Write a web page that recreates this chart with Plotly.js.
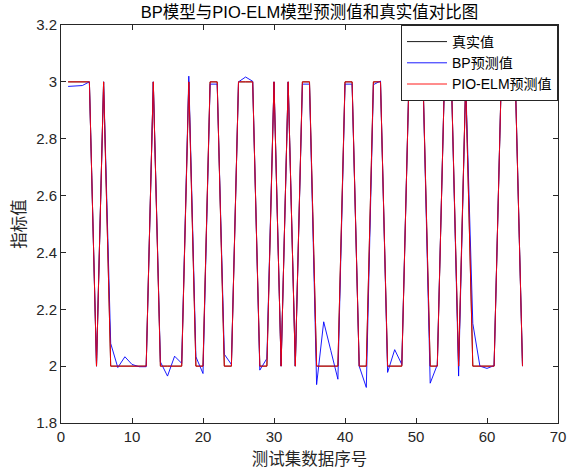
<!DOCTYPE html>
<html>
<head>
<meta charset="utf-8">
<script src="https://cdn.plot.ly/plotly-3.0.1.min.js"></script>
<style>
html,body{margin:0;padding:0;background:#fff;}
#chart{width:567px;height:473px;}
</style>
</head>
<body>
<div id="chart"></div>
<script>
// Sample index 1..65
var sampleIndex = [];
for (var i = 1; i <= 65; i++) sampleIndex.push(i);

// True values (真实值)
var trueValues = [
  3,3,3,3,2,3,2,2,2,2,
  2,2,3,2,2,2,2,3,2,2,
  3,3,2,2,3,3,3,2,2,3,
  2,3,2,3,3,2,2,2,2,3,
  3,2,2,3,3,2,2,2,3,3,
  3,2,2,3,3,2,3,2,2,2,
  2,3,3,3,2
];

// BP predictions (BP预测值)
var bpValues = [
  2.984,2.985,2.987,3.0,2.0,3.0,2.08,1.995,2.033,2.006,
  1.998,1.998,3.0,2.015,1.965,2.035,2.01,3.02,2.033,1.974,
  2.992,2.992,2.042,2.006,3.0,3.017,3.002,1.986,2.027,3.0,
  2.0,3.0,2.0,2.992,2.992,1.935,2.156,2.055,1.954,2.992,
  2.992,2.0,1.925,2.99,3.003,1.978,2.058,2.006,3.0,3.0,
  3.0,1.94,2.005,3.0,3.0,1.965,3.0,2.15,2.0,1.992,
  2.002,3.0,2.962,3.0,2.0
];

// PIO-ELM predictions (PIO-ELM预测值)
var pioValues = [
  3,3,3,3,2,3,2,2,2,2,
  2,2,3,2,2,2,2,3,2,2,
  3,3,2,2,3,3,3,2,2,3,
  2,3,2,3,3,2,2,2,2,3,
  3,2,2,3,3,2,2,2,3,3,
  3,2,2,3,3,2,3,2,2,2,
  2,3,2.99,3,2
];

var seriesNames = ['真实值', 'BP预测值', 'PIO-ELM预测值'];
var xTickVals = [0,10,20,30,40,50,60,70];
var yTickVals = [1.8,2,2.2,2.4,2.6,2.8,3,3.2];
var yTickText = ['1.8','2','2.2','2.4','2.6','2.8','3','3.2'];

var FONT = 'Liberation Sans, Arial, "Noto Sans CJK SC", sans-serif';
var AXC = '#262626';

var traces = [
  {x: sampleIndex, y: trueValues, name: seriesNames[0], mode: 'lines',
   line: {color: '#000000', width: 0.9}},
  {x: sampleIndex, y: bpValues, name: seriesNames[1], mode: 'lines',
   line: {color: '#0000ff', width: 0.9}},
  {x: sampleIndex, y: pioValues, name: seriesNames[2], mode: 'lines',
   line: {color: '#ff0000', width: 0.9}}
];

var layout = {
  width: 567, height: 473,
  paper_bgcolor: '#ffffff', plot_bgcolor: '#ffffff',
  margin: {l: 61, r: 9, t: 25, b: 50, pad: 0},
  font: {family: FONT, size: 15, color: AXC},
  title: {text: 'BP模型与PIO-ELM模型预测值和真实值对比图',
          font: {family: FONT, size: 16.5, color: '#000'},
          xref: 'paper', x: 0.5, xanchor: 'center',
          yref: 'container', y: 0.975, yanchor: 'middle'},
  xaxis: {
    range: [0, 70], tickmode: 'array', tickvals: xTickVals,
    ticks: 'inside', ticklen: 5, tickcolor: AXC, tickwidth: 1,
    showline: true, linecolor: AXC, linewidth: 1, mirror: 'ticks',
    showgrid: false, zeroline: false,
    tickfont: {family: FONT, size: 15, color: AXC},
    title: {text: '测试集数据序号', font: {family: FONT, size: 16.5, color: AXC}, standoff: 9}
  },
  yaxis: {
    range: [1.8, 3.2], tickmode: 'array', tickvals: yTickVals, ticktext: yTickText,
    ticks: 'inside', ticklen: 5, tickcolor: AXC, tickwidth: 1,
    showline: true, linecolor: AXC, linewidth: 1, mirror: 'ticks',
    showgrid: false, zeroline: false,
    tickfont: {family: FONT, size: 15, color: AXC},
    title: {text: '指标值', font: {family: FONT, size: 16.5, color: AXC}, standoff: 6}
  },
  showlegend: true,
  legend: {
    x: 1, y: 1, xanchor: 'right', yanchor: 'top',
    bgcolor: '#ffffff', bordercolor: AXC, borderwidth: 1,
    font: {family: FONT, size: 14, color: '#000'},
    tracegroupgap: 0, itemwidth: 40
  }
};

Plotly.newPlot('chart', traces, layout, {staticPlot: true, displayModeBar: false});
</script>
</body>
</html>
